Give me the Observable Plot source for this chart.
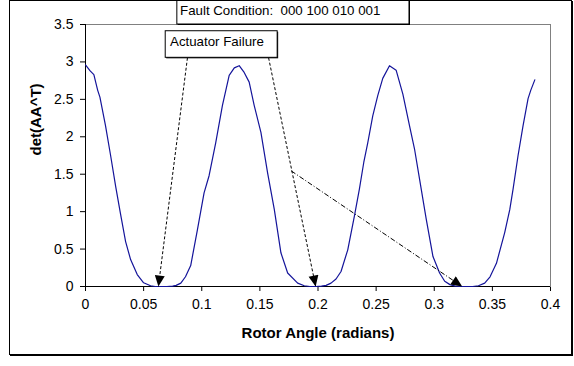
<!DOCTYPE html>
<html>
<head>
<meta charset="utf-8">
<script src="https://cdn.jsdelivr.net/npm/d3@7"></script>
<script src="https://cdn.jsdelivr.net/npm/@observablehq/plot@0.6"></script>
<style>
  html, body { margin: 0; padding: 0; background: #fff; }
  #wrap { position: relative; width: 574px; height: 366px; }
  #outer { position: absolute; left: 9px; top: 0px; width: 561px; height: 353px;
           border: 1px solid #000; box-shadow: 1px 1px 0 #000; pointer-events: none; }
</style>
</head>
<body>
<div id="wrap"><div id="outer"></div></div>
<script>
// Rotor angle (radians) and det(AA^T)
const angle = [0, 0.004, 0.0072, 0.0086, 0.0105, 0.0124, 0.0172, 0.0216, 0.0259, 0.030, 0.0345, 0.0388, 0.0445, 0.050, 0.056, 0.060, 0.065, 0.070, 0.075, 0.078, 0.082, 0.086, 0.0905, 0.0963, 0.102, 0.1063, 0.112, 0.1178, 0.1236, 0.128, 0.1322, 0.1365, 0.1408, 0.1451, 0.1509, 0.1566, 0.1624, 0.1681, 0.1739, 0.1825, 0.1882, 0.193, 0.198, 0.203, 0.207, 0.2112, 0.2155, 0.2198, 0.2256, 0.2313, 0.2356, 0.2394, 0.2428, 0.2471, 0.2514, 0.2557, 0.2615, 0.2672, 0.273, 0.2787, 0.283, 0.2874, 0.2931, 0.2989, 0.3046, 0.309, 0.3135, 0.318, 0.323, 0.328, 0.333, 0.338, 0.3434, 0.348, 0.3535, 0.3606, 0.365, 0.3678, 0.3721, 0.3764, 0.3807, 0.383, 0.3865];
const detAAT = [2.96, 2.88, 2.83, 2.74, 2.62, 2.53, 2.15, 1.75, 1.34, 0.98, 0.6, 0.36, 0.16, 0.05, 0.01, 0, 0, 0, 0.005, 0.015, 0.045, 0.13, 0.28, 0.76, 1.25, 1.48, 1.92, 2.42, 2.82, 2.92, 2.95, 2.86, 2.73, 2.42, 2.06, 1.52, 1.03, 0.45, 0.18, 0.045, 0.01, 0, 0, 0.005, 0.015, 0.045, 0.1, 0.2, 0.49, 0.94, 1.3, 1.66, 1.92, 2.28, 2.55, 2.78, 2.95, 2.89, 2.57, 2.15, 1.84, 1.43, 0.9, 0.4, 0.18, 0.07, 0.025, 0.005, 0, 0, 0, 0.01, 0.045, 0.13, 0.31, 0.72, 1.03, 1.3, 1.75, 2.15, 2.51, 2.62, 2.76];

const xTicks = [0, 0.05, 0.1, 0.15, 0.2, 0.25, 0.3, 0.35, 0.4];
const yTicks = [0, 0.5, 1, 1.5, 2, 2.5, 3, 3.5];

const xLabel = "Rotor Angle (radians)";
const yLabel = "det(AA^T)";

// Annotations (data units)
const titleText = "Fault Condition:  000 100 010 001";
const titleBoxX = [0.079, 0.2787];
const titleBoxY = [3.5, 3.835];
const titleTextAt = [0.0813, 3.69];

const calloutText = "Actuator Failure";
const calloutBoxX = [0.069, 0.1653];
const calloutBoxY = [3.055, 3.41];
const calloutTextAt = [0.0727, 3.27];

const arrowFromX = [0.0877, 0.1575, 0.177];
const arrowFromY = [3.055, 3.055, 1.544];
const arrowToX = [0.0627, 0.198, 0.324];
const arrowToY = [0, 0, 0];
const arrowDash = ["3,2", "3,2", "5,2,1,2"];

const curve = angle.map((a, i) => ({x: a, y: detAAT[i]}));
const arrows = arrowFromX.map((x, i) => ({x1: x, y1: arrowFromY[i], x2: arrowToX[i], y2: arrowToY[i], dash: arrowDash[i]}));

const font = "Arial, 'Liberation Sans', Helvetica, sans-serif";

const chart = Plot.plot({
  width: 574,
  height: 366,
  marginLeft: 85,
  marginRight: 24,
  marginTop: 24,
  marginBottom: 80,
  style: {fontFamily: font, fontSize: "14px", color: "#000", background: "transparent", overflow: "visible"},
  x: {domain: [0, 0.4], ticks: xTicks, tickFormat: d => String(d), tickSize: 5, tickPadding: 8, label: null},
  y: {domain: [0, 3.5], ticks: yTicks, tickFormat: d => String(d), tickSize: 5, tickPadding: 7, label: null},
  marks: [
    Plot.frame({stroke: "#808080"}),
    Plot.ruleX([0], {stroke: "#000"}),
    Plot.ruleY([0], {stroke: "#000"}),
    Plot.line(curve, {x: "x", y: "y", stroke: "#14149a", strokeWidth: 1.2}),
    ...arrows.map(a => Plot.link([a], {x1: "x1", y1: "y1", x2: "x2", y2: "y2", stroke: "#000", strokeWidth: 1, strokeDasharray: a.dash, markerEnd: "arrow"})),
    Plot.rect([0], {x1: calloutBoxX[0], x2: calloutBoxX[1], y1: calloutBoxY[0], y2: calloutBoxY[1], fill: "#000", dx: 1, dy: 1}),
    Plot.rect([0], {x1: calloutBoxX[0], x2: calloutBoxX[1], y1: calloutBoxY[0], y2: calloutBoxY[1], fill: "#fff", stroke: "#000", strokeWidth: 1}),
    Plot.text([calloutText], {x: calloutTextAt[0], y: calloutTextAt[1], text: d => d, textAnchor: "start", fontSize: 13.3, fill: "#000"}),
    Plot.rect([0], {x1: titleBoxX[0], x2: titleBoxX[1], y1: titleBoxY[0], y2: titleBoxY[1], fill: "#000", dx: 1, dy: 1}),
    Plot.rect([0], {x1: titleBoxX[0], x2: titleBoxX[1], y1: titleBoxY[0], y2: titleBoxY[1], fill: "#fff", stroke: "#000", strokeWidth: 1}),
    Plot.text([titleText], {x: titleTextAt[0], y: titleTextAt[1], text: d => d, textAnchor: "start", fontSize: 13.3, fill: "#000"}),
    Plot.text([xLabel], {frameAnchor: "bottom", dy: 47, text: d => d, fontSize: 15, fontWeight: "bold", fill: "#000", lineAnchor: "middle"}),
    Plot.text([yLabel], {frameAnchor: "left", dx: -49, rotate: -90, text: d => d, fontSize: 15, fontWeight: "bold", fill: "#000", lineAnchor: "middle"})
  ]
});

chart.querySelectorAll("marker").forEach(m => {
  m.setAttribute("viewBox", "-12 -5 13 10");
  m.setAttribute("markerWidth", "13");
  m.setAttribute("markerHeight", "10");
  m.setAttribute("markerUnits", "userSpaceOnUse");
  m.setAttribute("refX", "0");
  m.setAttribute("refY", "0");
  m.setAttribute("orient", "auto");
  m.innerHTML = '<path d="M-11,-5L0,0L-11,5Z" fill="#000" stroke="none" stroke-dasharray="none"></path>';
});

chart.style.position = "absolute";
chart.style.left = "0px";
chart.style.top = "0px";
const wrap = document.getElementById("wrap");
wrap.insertBefore(chart, wrap.firstChild);
</script>
</body>
</html>
